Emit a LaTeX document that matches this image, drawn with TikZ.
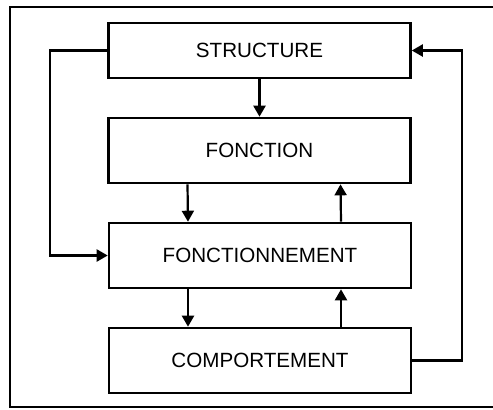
\documentclass[tikz,border=0pt]{standalone}
\usepackage{fontspec}
\setmainfont{Liberation Sans}
\usetikzlibrary{arrows.meta}

\begin{document}
\begin{tikzpicture}[x=0.5pt, y=-0.5pt, font=\fontsize{10.3}{12}\selectfont,
  blk/.style={draw, line width=1.3pt, minimum width=151pt, minimum height=32.5pt, inner sep=0pt},
  arr/.style={line width=1.1pt, -{Triangle[length=5.5pt, width=6pt]}}]
  \useasboundingbox (0,0) rectangle (493,409);
  \draw[line width=0.8pt] (10,7) rectangle (500,407);
  \node[blk, minimum height=27.5pt] (struct) at (259.5,50.5) {STRUCTURE};
  \node[blk] (fonc) at (259.5,150.5) {FONCTION};
  \node[blk] (fnt) at (260,255.5) {FONCTIONNEMENT};
  \node[blk] (comp) at (260,360.5) {COMPORTEMENT};
  \coordinate (lft) at (50,0);
  \coordinate (rgt) at (462,0);
  \draw[arr] (struct) -- (fonc);
  \draw[arr] ([xshift=-36pt]fonc.south) -- ([xshift=-36pt]fnt.north);
  \draw[arr] ([xshift=40.5pt]fnt.north) -- ([xshift=40.5pt]fonc.south);
  \draw[arr] ([xshift=-36pt]fnt.south) -- ([xshift=-36pt]comp.north);
  \draw[arr] ([xshift=40.5pt]comp.north) -- ([xshift=40.5pt]fnt.south);
  \draw[arr] (struct.west) -- (struct.west -| lft) -- (fnt.west -| lft) -- (fnt.west);
  \draw[arr] (comp.east) -- (comp.east -| rgt) -- (struct.east -| rgt) -- (struct.east);
\end{tikzpicture}
\end{document}
